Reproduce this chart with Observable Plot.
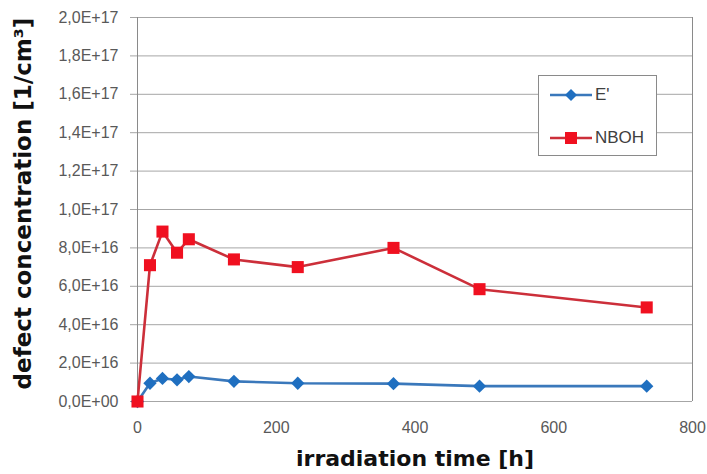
<!DOCTYPE html>
<html>
<head>
<meta charset="utf-8">
<script src="https://cdn.jsdelivr.net/npm/d3@7"></script>
<script src="https://cdn.jsdelivr.net/npm/@observablehq/plot@0.6"></script>
<style>
  html, body { margin: 0; padding: 0; background: #fff; }
  #wrap { position: relative; width: 707px; height: 474px; }
  #legend {
    position: absolute; left: 538px; top: 75px; width: 117px; height: 79px;
    border: 1px solid #8a8a8a; background: #fff;
    font-family: "Liberation Sans", Arial, sans-serif; font-size: 17px; color: #404040;
  }
  .li { position: absolute; left: 11px; height: 20px; display: flex; align-items: center; }
  .li svg { display: block; }
  .li span { margin-left: 3px; }
</style>
</head>
<body>
<div id="wrap">
  <div id="chart"></div>
  <div id="legend"></div>
</div>
<script>
// ---- data ----
const times = [0, 18, 36, 57, 74, 139, 231, 369, 493, 734];           // irradiation time [h]
const eprime = [0, 0.95e16, 1.2e16, 1.13e16, 1.3e16, 1.05e16, 0.95e16, 0.93e16, 0.8e16, 0.8e16]; // E'
const nboh = [0, 7.1e16, 8.85e16, 7.75e16, 8.45e16, 7.4e16, 7.0e16, 8.0e16, 5.85e16, 4.9e16];     // NBOH
const seriesNames = ["E'", "NBOH"];
const xTicks = [0, 200, 400, 600, 800];
const yTicks = [0, 2e16, 4e16, 6e16, 8e16, 1e17, 1.2e17, 1.4e17, 1.6e17, 1.8e17, 2e17];
const xLabel = "irradiation time [h]";
const yLabel = "defect concentration [1/cm³]";

const colors = {
  "E'": {line: "#3a78bb", fill: "#1f6fc0"},
  "NBOH": {line: "#cc2f3a", fill: "#f01020"}
};

const rowsE = times.map((t, i) => ({t, v: eprime[i]}));
const rowsN = times.map((t, i) => ({t, v: nboh[i]}));

function fmt(d) {
  if (d === 0) return "0,0E+00";
  const e = Math.floor(Math.log10(d) + 1e-9);
  const m = d / Math.pow(10, e);
  return m.toFixed(1).replace(".", ",") + "E+" + String(e).padStart(2, "0");
}

const plot = Plot.plot({
  width: 707,
  height: 474,
  marginLeft: 137,
  marginRight: 15,
  marginTop: 17,
  marginBottom: 73,
  style: {fontFamily: "Liberation Sans, Arial, sans-serif", background: "#fff"},
  x: {domain: [0, 800]},
  y: {domain: [0, 2e17]},
  marks: [
    Plot.gridY(yTicks, {stroke: "#a6a6a6", strokeOpacity: 1}),
    Plot.axisY(yTicks, {tickSize: 7, tickPadding: 12, tickFormat: fmt, stroke: "#a6a6a6", fill: "#595959", fontSize: 16, label: null}),
    Plot.axisX(xTicks, {tickSize: 0, tickPadding: 20, fill: "#595959", fontSize: 16, label: null}),
    Plot.ruleX([0], {stroke: "#8a8a8a"}),
    Plot.ruleX([800], {stroke: "#8a8a8a"}),
    Plot.line(rowsE, {x: "t", y: "v", stroke: colors["E'"].line, strokeWidth: 2.6}),
    Plot.dot(rowsE, {x: "t", y: "v", symbol: "diamond2", r: 6, fill: colors["E'"].fill, stroke: "none"}),
    Plot.line(rowsN, {x: "t", y: "v", stroke: colors["NBOH"].line, strokeWidth: 2.6}),
    Plot.dot(rowsN, {x: "t", y: "v", symbol: "square", r: 6.8, fill: colors["NBOH"].fill, stroke: "none"}),
    Plot.text([xLabel], {text: d => d, frameAnchor: "bottom", textAnchor: "middle", lineAnchor: "middle", dy: 57,
      fontSize: 22, fontWeight: "bold", fontFamily: "DejaVu Sans", fill: "#111"}),
    Plot.text([yLabel], {text: d => d, frameAnchor: "left", textAnchor: "middle", lineAnchor: "middle", rotate: -90,
      dx: -114, dy: -6, fontSize: 23, fontWeight: "bold", fontFamily: "DejaVu Sans", fill: "#111"})
  ]
});
document.getElementById("chart").appendChild(plot);

// legend
const legend = document.getElementById("legend");
seriesNames.forEach((name, i) => {
  const div = document.createElement("div");
  div.className = "li";
  div.style.top = (i === 0 ? 9 : 52) + "px";
  const c = colors[name];
  const sym = i === 0
    ? `<polygon points="21,4 27,10 21,16 15,10" fill="${c.fill}"/>`
    : `<rect x="15" y="4" width="12" height="12" fill="${c.fill}"/>`;
  div.innerHTML = `<svg width="42" height="20"><line x1="0" y1="10" x2="42" y2="10" stroke="${c.line}" stroke-width="2.6"/>${sym}</svg><span>${name}</span>`;
  legend.appendChild(div);
});
</script>
</body>
</html>
